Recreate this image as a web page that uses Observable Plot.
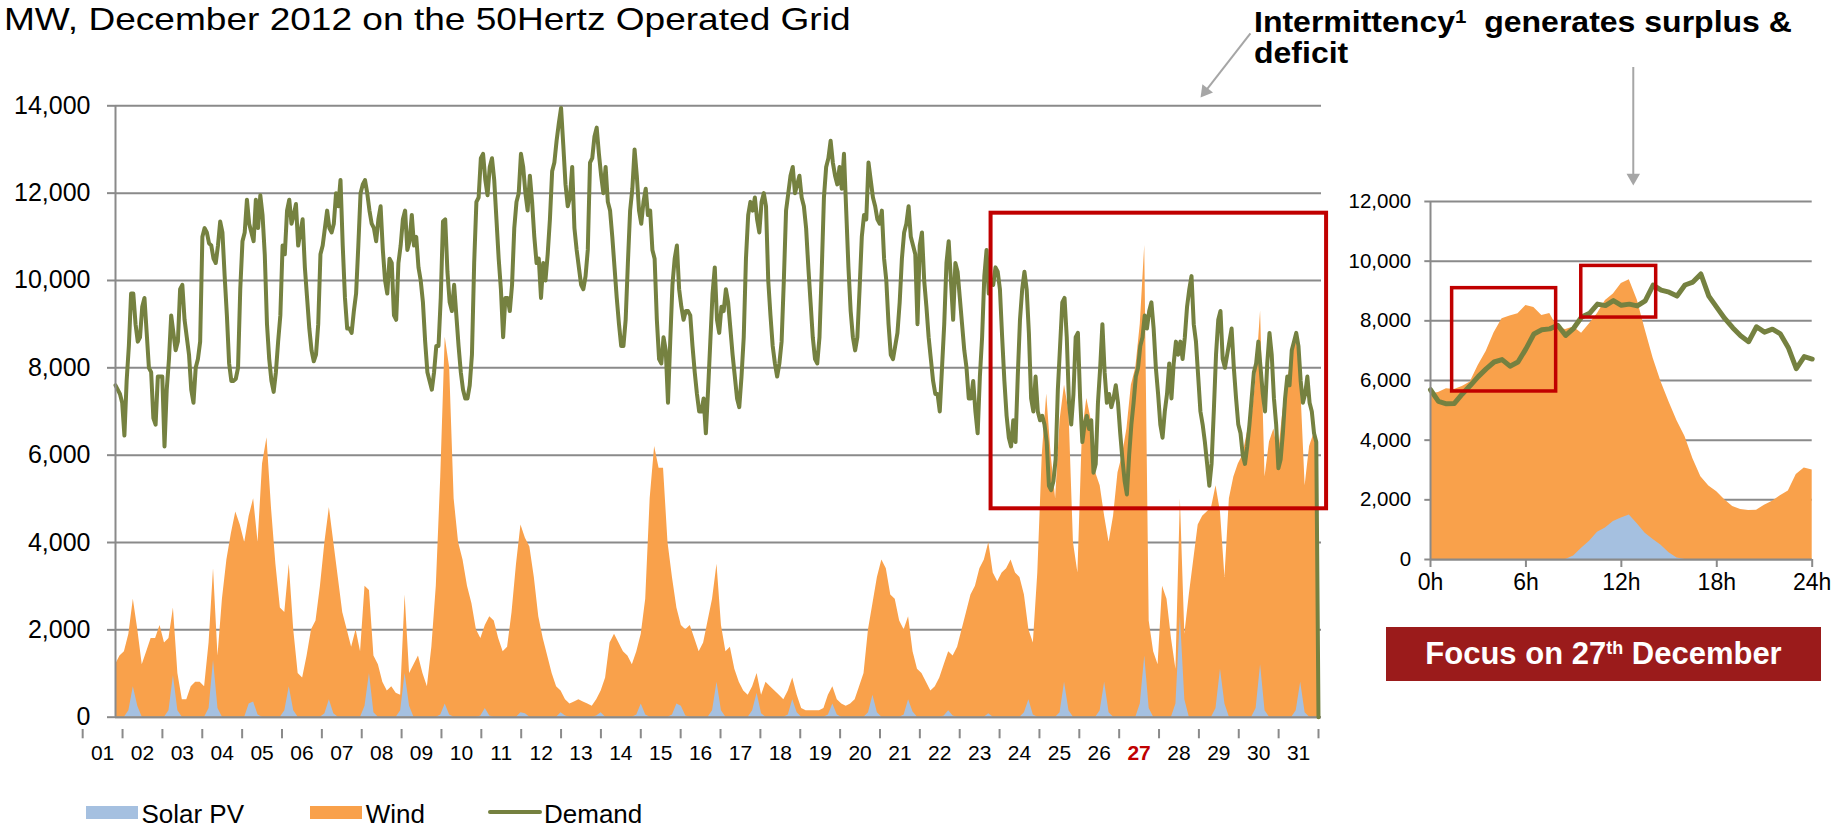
<!DOCTYPE html>
<html>
<head>
<meta charset="utf-8">
<script src="https://cdn.jsdelivr.net/npm/d3@7"></script>
<script src="https://cdn.jsdelivr.net/npm/@observablehq/plot@0.6"></script>
<style>
  body { margin: 0; background: #fff; font-family: "Liberation Sans", Arial, Helvetica, sans-serif; color: #000; }
  #page { position: relative; width: 1841px; height: 828px; overflow: hidden; }
  .abs { position: absolute; white-space: nowrap; }
  #title { left: 4.4px; top: 4.2px; font-size: 30.5px; line-height: 1; transform: scaleX(1.215); transform-origin: 0 0; }
  #note { left: 1254px; top: 7.2px; font-size: 29.5px; font-weight: bold; line-height: 30.6px; transform: scaleX(1.085); transform-origin: 0 0; }
  #note sup { font-size: 0.64em; vertical-align: 9px; line-height: 0; }
  #focus { left: 1386px; top: 627.3px; width: 435px; height: 53.4px; background: #9b1b1b; color: #fff;
           font-size: 31px; font-weight: bold; line-height: 53.4px; text-align: center; }
  #focus sup { font-size: 0.58em; vertical-align: 10px; line-height: 0; }
  .lg { font-size: 26px; line-height: 1; }
</style>
</head>
<body>
<div id="page">
  <div id="main" class="abs" style="left:0;top:0;"></div>
  <div id="inset" class="abs" style="left:1330px;top:50px;"></div>
  <div id="title" class="abs">MW, December 2012 on the 50Hertz Operated Grid</div>
  <div id="note" class="abs">Intermittency<sup>1</sup>&nbsp; generates surplus &amp;<br>deficit</div>
  <div id="focus" class="abs">Focus on 27<sup>th</sup> December</div>
  <div id="legend"></div>
</div>
<script>
// ---------------- data: whole month (MW) ----------------
const MONTH_HOURS = 744;
// Demand, evenly sampled over the month (last point: the drop to 0 at the end of the series)
const demandMW = [
  7600,7500,7400,7200,6450,7700,8500,9700,9700,9000,8600,8700,9400,9600,8800,8000,7900,6850,6700,7800,
  7800,7800,6200,7500,8200,9200,8800,8400,8600,9800,9900,9100,8700,8300,7500,7200,8000,8200,8600,11000,
  11200,11100,10850,10800,10500,10400,10800,11350,11100,10100,9200,8100,7700,7700,7750,8000,9800,10900,11100,11850,
  11300,11100,10900,11850,11200,11950,11500,10600,9000,8200,7700,7450,7900,8600,9200,10800,10600,11600,11850,11300,
  11500,11750,10800,11100,11400,10300,9600,8900,8400,8150,8300,9000,10600,10800,11200,11600,11200,11100,11300,12000,
  11700,12300,10800,9600,8900,8900,8800,9300,9700,10800,12000,12200,12300,12000,11600,11300,11200,10900,11400,11700,
  10700,10000,9700,10500,10400,9200,9100,10400,10800,11400,11600,10700,10900,11500,10800,11000,10300,10000,9500,8600,
  7900,7700,7500,7900,8500,8500,9600,11350,11400,10200,9500,9300,9900,9200,8500,7900,7500,7300,7300,7600,
  8300,10400,11800,11900,12800,12900,12300,11950,12600,12800,12300,11400,10500,9800,8700,9600,9600,9300,9900,11200,
  11800,12000,12900,12600,12000,11600,12400,11800,11000,10400,10500,9600,10400,10000,10600,11400,12500,12700,13200,13600,
  13950,13100,12200,11700,11900,12600,11200,10700,10300,9900,9800,10100,10700,12700,12800,13300,13500,12900,12400,12000,
  12600,11800,11600,11000,10300,9600,9000,8500,8500,9100,10400,11600,12100,13000,12400,11600,11300,11800,12100,11500,
  11600,10700,10500,9100,8200,8100,8700,8400,7200,8600,9900,10500,10800,9800,9400,9100,9300,9300,9200,8500,
  7900,7400,7000,7000,7300,6500,7500,8600,9700,10300,9100,8800,9400,9300,9800,9500,8900,8300,7800,7300,
  7100,7800,8700,10500,11500,11800,11600,11900,11400,11100,11800,12000,11700,10000,9200,8500,8100,7800,8100,8600,
  10000,11600,12000,12400,12600,12000,12200,12400,11900,11700,11200,10300,9500,8700,8200,8100,8700,10200,11900,12600,
  12800,13200,12700,12400,12200,12600,12100,12900,11600,10300,9300,8700,8400,8700,9800,11000,11500,11400,12700,12300,
  11900,11700,11400,11300,11600,10500,10000,9000,8300,8200,8500,8800,9500,10500,11100,11300,11700,11000,10800,10600,
  9000,10800,11100,10000,9400,8700,8200,7700,7400,7400,7000,8000,9000,10400,10900,10000,9100,10400,10200,9600,
  9000,8400,8000,7300,7300,7700,7000,6500,7800,8700,10100,10700,9700,10000,9900,10300,10200,9800,8700,7700,
  6900,6400,6200,6800,6300,7800,9100,9800,10200,9800,8800,7300,7000,7800,7000,6800,6900,6700,6300,5300,
  5200,5400,5900,7500,8500,9500,9600,8700,7200,6700,7400,8700,8800,7300,6300,6700,6900,6600,6800,5600,
  5800,7200,8000,9000,7900,7200,7400,7100,7300,7600,7200,6500,5900,5400,5100,6000,6700,7200,7800,8000,
  8500,8700,9200,8900,9300,9500,8900,8000,7400,6700,6400,7000,7400,8100,7300,8100,8600,8300,8600,8200,
  8700,9400,9800,10100,9000,8600,7800,7000,6700,6300,5800,5300,5800,7000,8300,9100,9300,8200,8000,8300,
  8600,8900,8000,7300,6700,6500,6000,5800,6200,6700,7300,7900,8100,8600,8000,7400,7000,8100,8800,8300,
  7300,6700,5700,5900,6500,7300,7800,7600,8400,8600,8800,8500,7700,7200,7400,7800,7200,7000,6500,6300,
  0
];
// Wind (top of the orange area), evenly sampled over the month
const windMW = [
  1200,1400,1500,1900,2700,2000,1200,1500,1800,1800,2100,1700,1800,2500,1000,400,400,700,800,800,
  700,1700,3400,1400,2700,3600,4200,4700,4400,4000,4600,5000,4000,5800,6400,4800,3500,2500,2400,3500,
  2000,1000,900,1400,2000,2200,3000,4000,4800,4000,3200,2400,2000,1600,2000,1500,3000,2900,1400,1200,
  800,600,700,550,500,2800,1000,1200,1400,1000,700,1600,3000,5500,8700,8000,5000,4000,3600,3000,
  2600,2000,1800,2100,2300,2200,1800,1500,1600,2400,3500,4400,4100,3900,3200,2300,1800,1400,1000,700,
  600,400,300,350,400,350,300,250,400,600,900,1700,1900,1700,1500,1400,1200,1500,1900,2700,
  5000,6200,5700,5700,4000,3200,2500,2100,2000,2100,1800,1500,1700,2200,2700,3500,2100,1500,1600,1100,
  800,600,500,700,1000,500,800,700,600,500,400,600,900,500,200,150,150,150,150,200,
  500,700,400,300,250,300,400,700,1000,2000,2600,3200,3600,3400,2800,2700,2200,2000,2300,1500,
  1100,1000,800,600,700,900,1200,1500,1400,1600,2000,2400,2800,3000,3400,3600,4000,3300,3100,3300,
  3400,3600,3300,3200,2800,2000,1700,3300,6000,7400,6000,5000,6800,7600,7000,4000,3300,6500,7300,6800,
  5600,5300,4600,4000,4600,5600,6000,6600,7600,8000,9000,10800,2200,1500,1200,3000,2700,1800,1100,5000,
  1900,2800,3600,4400,4600,4700,4800,5300,4700,3200,5000,5500,5800,6000,6500,6800,7800,9300,5500,6300,
  6600,6000,7000,7700,8200,8800,7600,5300,6200,6500,
  6300
];
// Solar PV, same sampling as wind
const solarMW = [
  0,0,0,150,700,250,0,0,0,0,0,0,150,950,150,0,0,0,0,0,
  0,200,1300,200,0,0,0,0,0,0,300,350,50,0,0,0,0,0,150,700,
  150,0,0,0,0,0,0,80,400,80,0,0,0,0,0,0,250,1000,100,0,
  0,0,0,0,150,1000,250,0,0,0,0,0,0,50,300,50,0,0,0,0,
  0,0,30,200,30,0,0,0,0,0,0,100,80,0,0,0,0,0,0,0,
  100,30,0,0,0,0,0,0,30,100,0,0,0,0,0,0,0,50,300,50,
  0,0,0,0,0,50,300,250,30,0,0,0,0,0,150,800,150,0,0,0,
  0,0,0,150,550,80,0,0,0,0,0,50,400,100,0,0,0,0,0,0,
  50,300,50,0,0,0,0,0,0,100,500,100,0,0,0,0,0,50,400,120,
  0,0,0,0,0,0,30,150,30,0,0,0,0,0,0,0,80,0,0,0,
  0,0,0,0,100,400,50,0,0,0,0,0,100,800,150,0,0,0,0,0,
  0,150,800,100,0,0,0,0,0,0,300,1400,200,0,0,0,0,0,300,2300,
  400,0,0,0,0,0,0,200,1100,300,0,0,0,0,0,0,200,1200,150,0,
  0,0,0,0,0,150,800,100,0,0,
  0
];
const dayLabels = ["01","02","03","04","05","06","07","08","09","10","11","12","13","14","15","16",
                   "17","18","19","20","21","22","23","24","25","26","27","28","29","30","31"];
const focusDay = "27";
const yTicksMain = [0,2000,4000,6000,8000,10000,12000,14000];
// Excel's category axis starts a little left of the plotted series (hours)
const axisStartHour = -20.3;

// ---------------- data: focus on 27 December (half-hourly, MW) ----------------
const insetStepHours = 0.5;
const insetDemandMW = [5690,5300,5220,5230,5550,5830,6130,6390,6620,6700,6480,6620,7060,7560,7700,7730,7850,7510,7750,8130,
  8250,8560,8510,8680,8520,8560,8500,8670,9200,9030,8960,8830,9200,9300,9570,8830,8450,8080,7770,7500,
  7300,7800,7620,7720,7560,7100,6400,6800,6720];
const insetWindMW = [5550,5600,5720,5700,5800,5950,6500,6970,7600,8070,8160,8240,8510,8450,8180,8250,7760,7710,7790,7580,
  7900,8250,8680,8900,9250,9380,8700,7700,6750,5950,5280,4650,4120,3380,2770,2460,2270,2000,1780,1680,
  1640,1650,1820,1950,2140,2300,2850,3070,3000];
const insetSolarMW = [0,0,0,0,0,0,0,0,0,0,0,0,0,0,0,0,0,0,120,380,610,910,1060,1270,1390,1490,1200,880,670,480,230,50,
  0,0,0,0,0,0,0,0,0,0,0,0,0,0,0,0,0];
const insetTicks = [0,6,12,18,24];
const insetTickLabels = ["0h","6h","12h","18h","24h"];
const yTicksInset = [0,2000,4000,6000,8000,10000,12000];

// ---------------- annotations (data units) ----------------
const mainFocusBox = [{x1: 541.5, x2: 749, y1: 4772, y2: 11541}];
const insetBoxes = [{x1: 1.36, x2: 7.9, y1: 5632, y2: 9095}, {x1: 9.48, x2: 14.19, y1: 8110, y2: 9841}];
const mainArrow = [{x1: 701.9, y1: 15656, x2: 674.0, y2: 14330}];
const insetArrow = [{x: 12.75, y1: 16492, y2: 12798}];

const C = {solar: "#a5c0e0", wind: "#f9a14b", demand: "#758140", grid: "#8a8a8a",
           red: "#c00000", arrow: "#a6a6a6"};
const FONT = '"Liberation Sans", Arial, Helvetica, sans-serif';

// ---------------- tables ----------------
const series = (arr, span) => arr.map((v, i) => ({h: i * span / (arr.length - 1), v}));
const demandRows = series(demandMW, MONTH_HOURS);
const windRows = series(windMW, MONTH_HOURS);
const solarRows = series(solarMW, MONTH_HOURS);
const dayStep = (MONTH_HOURS - axisStartHour) / dayLabels.length;
const dayTickHours = d3.range(dayLabels.length + 1).map(k => axisStartHour + k * dayStep);
const dayRows = dayLabels.map((label, i) => ({label, h: axisStartHour + (i + 0.5) * dayStep}));

const insetRows = arr => arr.map((v, i) => ({h: i * insetStepHours, v}));

// ---------------- main chart ----------------
const main = Plot.plot({
  width: 1340, height: 780,
  marginLeft: 115, marginRight: 19, marginTop: 105.3, marginBottom: 63.3,
  x: {domain: [0, MONTH_HOURS], range: [115, 1318]},
  y: {domain: [0, 14000]},
  style: {fontFamily: FONT, background: "transparent", overflow: "visible", color: "#000"},
  marks: [
    Plot.gridY(yTicksMain, {stroke: C.grid, strokeOpacity: 1, strokeWidth: 2}),
    Plot.areaY(windRows, {x: "h", y: "v", fill: C.wind}),
    Plot.areaY(solarRows, {x: "h", y: "v", fill: C.solar}),
    Plot.ruleY([0], {stroke: C.grid, strokeWidth: 2}),
    Plot.line(demandRows, {x: "h", y: "v", stroke: C.demand, strokeWidth: 4, strokeLinejoin: "round"}),
    Plot.ruleX([0], {stroke: C.grid, strokeWidth: 2}),
    Plot.axisY({ticks: yTicksMain, tickFormat: d3.format(","), tickSize: 8, tickPadding: 17, fontSize: 25,
                stroke: C.grid, strokeWidth: 2, label: null}),
    Plot.axisX({ticks: dayTickHours, tickSize: 9.3, dy: 12.3, tickFormat: () => "", stroke: C.grid,
                strokeWidth: 2, label: null}),
    Plot.text(dayRows.filter(d => d.label !== focusDay), {x: "h", text: "label", frameAnchor: "bottom",
                lineAnchor: "middle", dy: 36.5, fontSize: 21, fill: "#000"}),
    Plot.text(dayRows.filter(d => d.label === focusDay), {x: "h", text: "label", frameAnchor: "bottom",
                lineAnchor: "middle", dy: 36.5, fontSize: 21, fill: C.red, fontWeight: "bold"}),
    Plot.rect(mainFocusBox, {x1: "x1", x2: "x2", y1: "y1", y2: "y2", fill: "none", stroke: C.red, strokeWidth: 4}),
    Plot.link(mainArrow, {x1: "x1", y1: "y1", x2: "x2", y2: "y2", stroke: C.arrow, strokeWidth: 2}),
    Plot.dot(mainArrow, {x: "x2", y: "y2", symbol: "triangle", r: 5, fill: C.arrow, stroke: null, rotate: 218})
  ]
});
document.getElementById("main").append(main);

// ---------------- inset: 27 December ----------------
const inset = Plot.plot({
  width: 511, height: 560,
  marginLeft: 100, marginRight: 29.3, marginTop: 151, marginBottom: 51,
  x: {domain: [0, 24]},
  y: {domain: [0, 12000]},
  style: {fontFamily: FONT, background: "transparent", overflow: "visible", color: "#000"},
  marks: [
    Plot.gridY(yTicksInset, {stroke: C.grid, strokeOpacity: 1, strokeWidth: 2}),
    Plot.areaY(insetRows(insetWindMW), {x: "h", y: "v", fill: C.wind}),
    Plot.areaY(insetRows(insetSolarMW), {x: "h", y: "v", fill: C.solar}),
    Plot.ruleY([0], {stroke: C.grid, strokeWidth: 2}),
    Plot.line(insetRows(insetDemandMW), {x: "h", y: "v", stroke: C.demand, strokeWidth: 5, strokeLinejoin: "round"}),
    Plot.ruleX([0], {stroke: C.grid, strokeWidth: 2}),
    Plot.axisY({ticks: yTicksInset, tickFormat: d3.format(","), tickSize: 5.7, tickPadding: 13.6, fontSize: 20.5,
                stroke: C.grid, strokeWidth: 2, label: null}),
    Plot.axisX({ticks: insetTicks, tickFormat: d => insetTickLabels[insetTicks.indexOf(d)], tickSize: 8,
                tickPadding: 6.5, fontSize: 23, stroke: C.grid, strokeWidth: 2, label: null}),
    Plot.rect(insetBoxes, {x1: "x1", x2: "x2", y1: "y1", y2: "y2", fill: "none", stroke: C.red, strokeWidth: 3.5}),
    Plot.ruleX(insetArrow, {x: "x", y1: "y1", y2: "y2", stroke: C.arrow, strokeWidth: 2}),
    Plot.dot(insetArrow, {x: "x", y: "y2", symbol: "triangle", r: 5, fill: C.arrow, stroke: null, rotate: 180})
  ]
});
document.getElementById("inset").append(inset);

// ---------------- legend ----------------
const legendItems = [
  {label: "Solar PV", kind: "area", color: C.solar, sx: 86, tx: 141.4},
  {label: "Wind", kind: "area", color: C.wind, sx: 310, tx: 365.7},
  {label: "Demand", kind: "line", color: C.demand, sx: 487.7, tx: 544}
];
const legend = d3.select("#legend");
legendItems.forEach(it => {
  const sw = legend.append("div").attr("class", "abs").style("left", it.sx + "px").style("background", it.color);
  if (it.kind === "area") sw.style("top", "806px").style("width", "51.7px").style("height", "13.3px");
  else sw.style("top", "810.3px").style("width", "54.6px").style("height", "4px").style("border-radius", "2px");
  legend.append("div").attr("class", "abs lg").style("left", it.tx + "px").style("top", "801.3px").text(it.label);
});
</script>
</body>
</html>
